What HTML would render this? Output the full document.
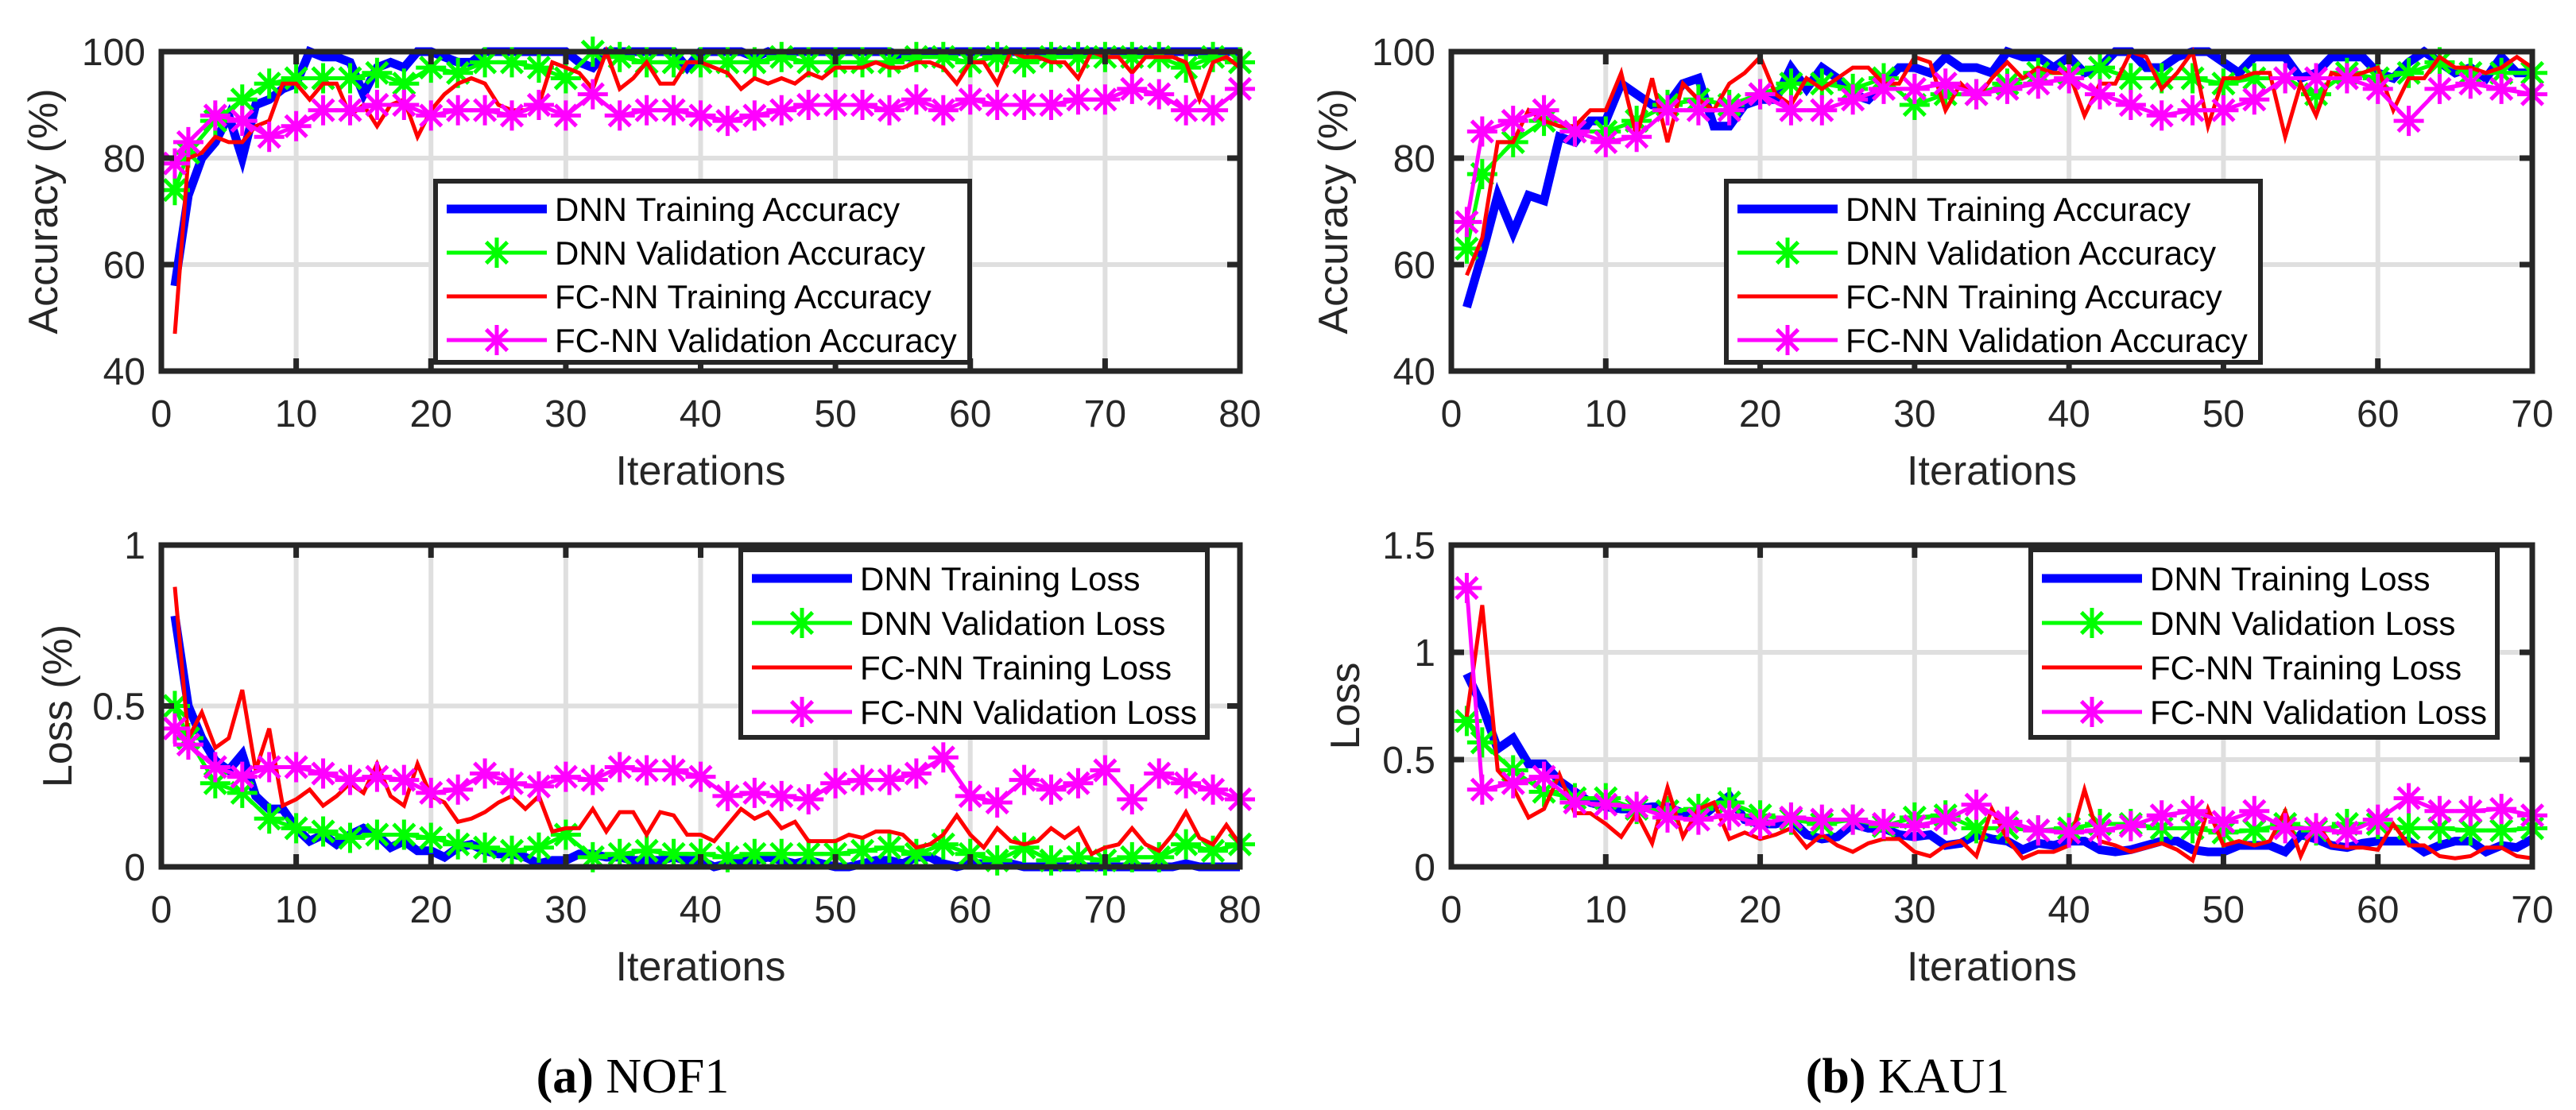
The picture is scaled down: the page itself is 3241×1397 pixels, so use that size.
<!DOCTYPE html>
<html><head><meta charset="utf-8"><style>
html,body{margin:0;padding:0;background:#fff;}
svg{display:block;font-family:"Liberation Sans",sans-serif;}
</style></head><body>
<svg id="fig" width="3241" height="1397" viewBox="0 0 3241 1397" xmlns="http://www.w3.org/2000/svg">
<text x="796" y="1375" text-anchor="middle" font-family="Liberation Serif,serif" font-size="62"><tspan font-weight="bold">(a)</tspan> NOF1</text>
<text x="2400" y="1375" text-anchor="middle" font-family="Liberation Serif,serif" font-size="62"><tspan font-weight="bold">(b)</tspan> KAU1</text>
</svg>
<script>
// ---- NOF1 accuracy ----
const nofAccDnnTrain=[56,73,80,83,88,80,90,91,93,94,100,99,99,98,92,97,98,97,100,100,99,98,98,100,100,100,100,100,100,100,98,97,100,100,100,100,100,100,97,100,100,100,100,99,100,99,100,100,100,100,100,100,100,100,99,99,100,100,100,100,100,100,100,100,100,100,100,100,100,100,100,100,100,100,100,100,100,100,100,100];
const nofAccDnnVal=[74,81,87,91,94,95,95,95,96,94,97,96,98,98,97,95,100,99,98,98,98,98,98,99,98,98,98,98,99,99,98,99,98,99,99,99,99,99,97,99,98];
const nofAccFcTrain=[47,80,81,84,83,83,86,87,94,94,91,94,94,88,90,86,90,91,84,89,92,94,95,94,90,89,89,90,98,97,96,93,100,93,95,98,94,94,98,98,97,96,93,95,94,95,94,96,95,97,97,97,98,97,97,98,98,97,94,98,98,94,100,99,99,98,98,95,100,99,99,96,99,99,99,98,91,98,99,97];
const nofAccFcVal=[79,83,88,87,84,86,89,89,90,90,88,89,89,88,90,88,92,88,89,89,88,87,88,89,90,90,90,89,91,89,91,90,90,90,91,91,93,92,89,89,93];
// ---- NOF1 loss ----
const nofLossDnnTrain=[0.78,0.5,0.4,0.33,0.3,0.35,0.22,0.18,0.18,0.12,0.08,0.1,0.07,0.1,0.12,0.1,0.06,0.08,0.05,0.05,0.03,0.06,0.07,0.05,0.04,0.04,0.03,0.01,0.02,0.02,0.04,0.04,0.03,0.03,0.02,0.02,0.02,0.03,0.02,0.02,0,0.01,0.02,0.02,0.03,0.02,0.01,0.02,0.01,0,0,0.01,0.02,0.02,0.01,0.03,0.03,0.01,0,0.01,0.01,0.01,0.01,0,0,0,0,0,0,0,0,0,0,0,0,0.01,0,0,0,0];
const nofLossDnnVal=[0.5,0.4,0.26,0.23,0.15,0.12,0.11,0.09,0.1,0.1,0.09,0.07,0.06,0.05,0.06,0.1,0.03,0.04,0.05,0.04,0.04,0.03,0.04,0.04,0.04,0.04,0.05,0.06,0.04,0.07,0.04,0.02,0.06,0.02,0.03,0.02,0.03,0.03,0.07,0.05,0.07];
const nofLossFcTrain=[0.87,0.4,0.48,0.37,0.4,0.55,0.3,0.43,0.19,0.21,0.24,0.19,0.22,0.26,0.23,0.32,0.22,0.19,0.32,0.22,0.2,0.14,0.15,0.17,0.2,0.22,0.18,0.22,0.11,0.12,0.12,0.18,0.11,0.17,0.17,0.1,0.17,0.16,0.1,0.1,0.08,0.13,0.18,0.15,0.17,0.12,0.14,0.08,0.08,0.08,0.1,0.09,0.11,0.11,0.1,0.06,0.07,0.1,0.16,0.1,0.06,0.12,0.08,0.07,0.08,0.12,0.09,0.12,0.04,0.06,0.07,0.12,0.07,0.05,0.1,0.17,0.09,0.07,0.13,0.07];
const nofLossFcVal=[0.43,0.38,0.31,0.28,0.31,0.31,0.29,0.27,0.28,0.27,0.23,0.24,0.29,0.26,0.25,0.28,0.27,0.31,0.3,0.3,0.28,0.22,0.23,0.22,0.21,0.26,0.27,0.27,0.29,0.34,0.22,0.2,0.27,0.24,0.26,0.3,0.21,0.29,0.26,0.24,0.21];
// ---- KAU1 accuracy ----
const kauAccDnnTrain=[52,62,73,66,73,72,84,83,87,87,94,92,90,90,94,95,86,86,90,91,91,97,93,97,95,92,91,94,97,97,96,99,97,97,96,100,99,99,97,99,96,97,100,100,97,97,99,100,100,98,96,99,99,99,95,96,99,99,99,96,95,98,100,98,96,97,95,99,96,96];
const kauAccDnnVal=[63,77,83,87,85,85,87,90,91,90,92,94,94,93,95,90,92,92,94,96,96,97,95,95,95,94,95,95,92,96,95,96,98,96,96,96];
const kauAccFcTrain=[58,65,83,83,89,87,86,86,89,89,96,84,95,83,94,91,89,94,96,99,92,90,95,93,95,97,97,94,94,99,98,89,94,91,95,98,95,97,96,96,88,94,94,100,99,93,96,100,86,95,95,96,96,84,94,88,96,95,96,97,89,95,95,99,97,97,96,97,99,97];
const kauAccFcVal=[68,85,87,89,85,83,84,89,89,89,92,89,89,91,93,93,94,92,93,94,95,92,90,88,89,89,91,95,95,95,93,87,93,94,93,92];
// ---- KAU1 loss ----
const kauLossDnnTrain=[0.9,0.75,0.55,0.6,0.48,0.48,0.4,0.35,0.3,0.28,0.27,0.27,0.28,0.28,0.25,0.22,0.28,0.33,0.22,0.2,0.2,0.22,0.15,0.13,0.14,0.2,0.18,0.18,0.15,0.14,0.15,0.1,0.11,0.15,0.13,0.12,0.08,0.11,0.1,0.12,0.12,0.08,0.07,0.08,0.1,0.12,0.12,0.08,0.07,0.07,0.1,0.1,0.1,0.07,0.15,0.13,0.1,0.09,0.11,0.12,0.12,0.12,0.07,0.1,0.12,0.12,0.07,0.1,0.09,0.13];
const kauLossDnnVal=[0.68,0.58,0.45,0.35,0.32,0.32,0.27,0.26,0.27,0.3,0.24,0.22,0.2,0.22,0.19,0.23,0.24,0.18,0.18,0.17,0.18,0.2,0.2,0.18,0.18,0.16,0.17,0.2,0.17,0.2,0.2,0.18,0.18,0.17,0.17,0.18];
const kauLossFcTrain=[0.7,1.22,0.45,0.37,0.23,0.27,0.43,0.25,0.25,0.2,0.14,0.25,0.11,0.37,0.14,0.27,0.3,0.13,0.16,0.13,0.15,0.18,0.09,0.15,0.1,0.07,0.11,0.13,0.13,0.07,0.05,0.1,0.12,0.05,0.27,0.13,0.04,0.07,0.07,0.1,0.36,0.12,0.1,0.07,0.09,0.11,0.08,0.03,0.27,0.1,0.12,0.1,0.12,0.26,0.05,0.21,0.1,0.09,0.09,0.08,0.2,0.1,0.1,0.05,0.04,0.05,0.09,0.09,0.05,0.04];
const kauLossFcVal=[1.3,0.36,0.39,0.42,0.3,0.29,0.28,0.23,0.22,0.24,0.2,0.23,0.22,0.22,0.2,0.19,0.22,0.29,0.21,0.17,0.16,0.17,0.19,0.24,0.26,0.21,0.26,0.18,0.18,0.16,0.22,0.32,0.26,0.26,0.27,0.24];
// ticks
const xTicksNof=[0,10,20,30,40,50,60,70,80];
const xTicksKau=[0,10,20,30,40,50,60,70];
const yTicksAcc=[40,60,80,100];
const yTicksLossNof=[0,0.5,1];
const yTicksLossKau=[0,0.5,1,1.5];
const accLegend=["DNN Training Accuracy","DNN Validation Accuracy","FC-NN Training Accuracy","FC-NN Validation Accuracy"];
const lossLegend=["DNN Training Loss","DNN Validation Loss","FC-NN Training Loss","FC-NN Validation Loss"];

const NS="http://www.w3.org/2000/svg";
const svg=document.getElementById('fig');
function mk(tag,attrs,parent){const e=document.createElementNS(NS,tag);for(const k in attrs)e.setAttribute(k,attrs[k]);(parent||svg).appendChild(e);return e;}
function valX(n){const a=[1];for(let i=2;i<=n;i+=2)a.push(i);return a;}
function asterisk(g,cx,cy,color,r){
  const p=`M${cx-r},${cy}H${cx+r}M${cx},${cy-r}V${cy+r}M${cx-r*0.7},${cy-r*0.7}L${cx+r*0.7},${cy+r*0.7}M${cx-r*0.7},${cy+r*0.7}L${cx+r*0.7},${cy-r*0.7}`;
  const m=mk('path',{d:p,stroke:color,'stroke-width':5,fill:'none'},g);
  
  
}
function plot(o){
  const g=mk('g',{});
  
  
  const sx=v=>o.x0+(v-o.xmin)/(o.xmax-o.xmin)*(o.x1-o.x0);
  const sy=v=>o.y1-(v-o.ymin)/(o.ymax-o.ymin)*(o.y1-o.y0);
  mk('rect',{x:o.x0,y:o.y0,width:o.x1-o.x0,height:o.y1-o.y0,fill:'#fff'},g);
  o.xt.forEach(t=>{const l=mk('line',{x1:sx(t),x2:sx(t),y1:o.y0,y2:o.y1,stroke:'#dfdfdf','stroke-width':6},g);
    });
  o.yt.forEach(t=>{const l=mk('line',{x1:o.x0,x2:o.x1,y1:sy(t),y2:sy(t),stroke:'#dfdfdf','stroke-width':6},g);
    });
  const cols=['#0000ff','#00ff00','#ff0000','#ff00ff'];
  const widths=[11,5,5,5];
  o.series.forEach((s,si)=>{
    const xs=(si%2===1)?valX(o.xmax):s.map((_,i)=>i+1);
    const pts=s.map((v,i)=>`${sx(xs[i]).toFixed(1)},${sy(v).toFixed(1)}`).join(' ');
    const pl=mk('polyline',{points:pts,fill:'none',stroke:cols[si],'stroke-width':widths[si],'stroke-linejoin':'miter'},g);
    
    
    if(si%2===1) s.forEach((v,i)=>asterisk(g,sx(xs[i]),sy(v),cols[si],19));
  });
  const box=mk('rect',{x:o.x0,y:o.y0,width:o.x1-o.x0,height:o.y1-o.y0,fill:'none',stroke:'#262626','stroke-width':7},g);
  
  o.xt.forEach(t=>{
    mk('line',{x1:sx(t),x2:sx(t),y1:o.y1,y2:o.y1-16,stroke:'#262626','stroke-width':7},g);
    mk('line',{x1:sx(t),x2:sx(t),y1:o.y0,y2:o.y0+16,stroke:'#262626','stroke-width':7},g);
    const tx=mk('text',{x:sx(t),y:o.y1+70,'text-anchor':'middle','font-size':48,fill:'#262626'},g);
    tx.textContent=t;
  });
  o.yt.forEach(t=>{
    mk('line',{x1:o.x0,x2:o.x0+16,y1:sy(t),y2:sy(t),stroke:'#262626','stroke-width':7},g);
    mk('line',{x1:o.x1,x2:o.x1-16,y1:sy(t),y2:sy(t),stroke:'#262626','stroke-width':7},g);
    const tx=mk('text',{x:o.x0-20,y:sy(t)+17,'text-anchor':'end','font-size':48,fill:'#262626'},g);
    tx.textContent=t;
  });
  const xl=mk('text',{x:(o.x0+o.x1)/2,y:o.y1+143,'text-anchor':'middle','font-size':52,fill:'#262626'},g);
  xl.textContent='Iterations';
  const yl=mk('text',{x:0,y:0,'text-anchor':'middle','font-size':52,fill:'#262626',transform:`translate(${o.ylx},${(o.y0+o.y1)/2}) rotate(-90)`},g);
  yl.textContent=o.ylabel;
  const L=o.legBox;
  const lg=mk('g',{},g);
  
  mk('rect',{x:L.x,y:L.y,width:L.w,height:L.h,fill:'#fff',stroke:'#262626','stroke-width':6},lg);
  o.leg.forEach((t,i)=>{
    const ry=L.y+L.top+i*L.step;
    const e=mk('g',{},lg);
    
    mk('line',{x1:L.x+14,x2:L.x+140,y1:ry,y2:ry,stroke:cols[i],'stroke-width':widths[i]},e);
    if(i%2===1) asterisk(e,L.x+77,ry,cols[i],19);
    const tx=mk('text',{x:L.x+150,y:ry+15,'font-size':42,fill:'#000'},e);
    tx.textContent=t;
  });
}
plot({name:'nof1-accuracy-chart',x0:203,x1:1560,y0:65,y1:467,xmin:0,xmax:80,ymin:40,ymax:100,xt:xTicksNof,yt:yTicksAcc,
  series:[nofAccDnnTrain,nofAccDnnVal,nofAccFcTrain,nofAccFcVal],leg:accLegend,ylabel:'Accuracy (%)',ylx:72,
  legBox:{x:548,y:228,w:672,h:228,top:35,step:55}});
plot({name:'kau1-accuracy-chart',x0:1826,x1:3186,y0:65,y1:467,xmin:0,xmax:70,ymin:40,ymax:100,xt:xTicksKau,yt:yTicksAcc,
  series:[kauAccDnnTrain,kauAccDnnVal,kauAccFcTrain,kauAccFcVal],leg:accLegend,ylabel:'Accuracy (%)',ylx:1695,
  legBox:{x:2172,y:228,w:672,h:228,top:35,step:55}});
plot({name:'nof1-loss-chart',x0:203,x1:1560,y0:686,y1:1091,xmin:0,xmax:80,ymin:0,ymax:1,xt:xTicksNof,yt:yTicksLossNof,
  series:[nofLossDnnTrain,nofLossDnnVal,nofLossFcTrain,nofLossFcVal],leg:lossLegend,ylabel:'Loss (%)',ylx:90,
  legBox:{x:932,y:692,w:587,h:236,top:36,step:56}});
plot({name:'kau1-loss-chart',x0:1826,x1:3186,y0:686,y1:1091,xmin:0,xmax:70,ymin:0,ymax:1.5,xt:xTicksKau,yt:yTicksLossKau,
  series:[kauLossDnnTrain,kauLossDnnVal,kauLossFcTrain,kauLossFcVal],leg:lossLegend,ylabel:'Loss',ylx:1710,
  legBox:{x:2555,y:692,w:587,h:236,top:36,step:56}});
</script>
</body></html>
